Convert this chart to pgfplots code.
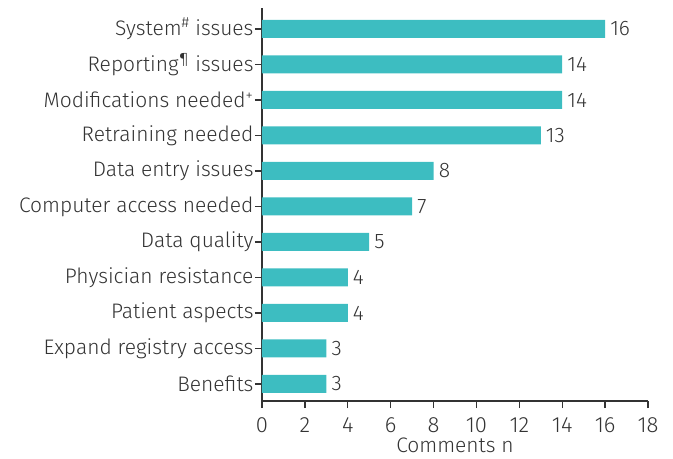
\documentclass[border=0pt]{standalone}
\usepackage{pgfplots}
\pgfplotsset{compat=1.18}
\usepackage{fontspec}
\setmainfont{Fira Sans}[UprightFont=* Light]
\definecolor{barteal}{HTML}{3DBDC1}
\definecolor{txt}{HTML}{333333}
\newcommand{\lblfont}{\fontsize{21bp}{24bp}\selectfont}
\begin{document}
\begin{tikzpicture}
\begin{axis}[
    name=ax,
    scale only axis,
    width=386bp, height=393bp,
    xmin=0, xmax=18, xtick={0,2,...,18},
    ymin=-0.48, ymax=10.59,
    ytick={0,...,10},
    yticklabels={Benefits, Expand registry access, Patient aspects, Physician resistance, Data quality, Computer access needed, Data entry issues, Retraining needed, Modifications needed\textsuperscript{+}, Reporting\textsuperscript{¶} issues, System\textsuperscript{\#} issues},
    axis x line*=bottom, axis y line*=left,
    axis line style={draw=txt, line width=1.3bp, -},
    tick style={draw=txt, line width=1.3bp},
    tick align=outside,
    major tick length=7bp,
    x tick label style={yshift=-6bp, font=\fontsize{22bp}{24bp}\selectfont},
    y tick label style={xshift=2bp},
    ticklabel style={font=\lblfont, text=txt},
    /pgf/number format/assume math mode=true,
    xlabel={Comments n},
    xlabel style={font=\lblfont, text=txt, yshift=-1bp, inner sep=1bp},
    xbar, bar width=18bp,
    nodes near coords,
    nodes near coords style={font=\lblfont, text=txt, anchor=west, inner sep=0pt, xshift=5bp},
    clip=false,
]
\addplot[fill=barteal, draw=none] coordinates {
    (3,0) (3,1) (4,2) (4,3) (5,4) (7,5) (8,6) (13,7) (14,8) (14,9) (16,10)
};
\end{axis}
\pgfresetboundingbox
\useasboundingbox ([shift={(-262bp,-58bp)}]ax.south west) rectangle ([shift={(25bp,8bp)}]ax.north east);
\end{tikzpicture}
\end{document}
